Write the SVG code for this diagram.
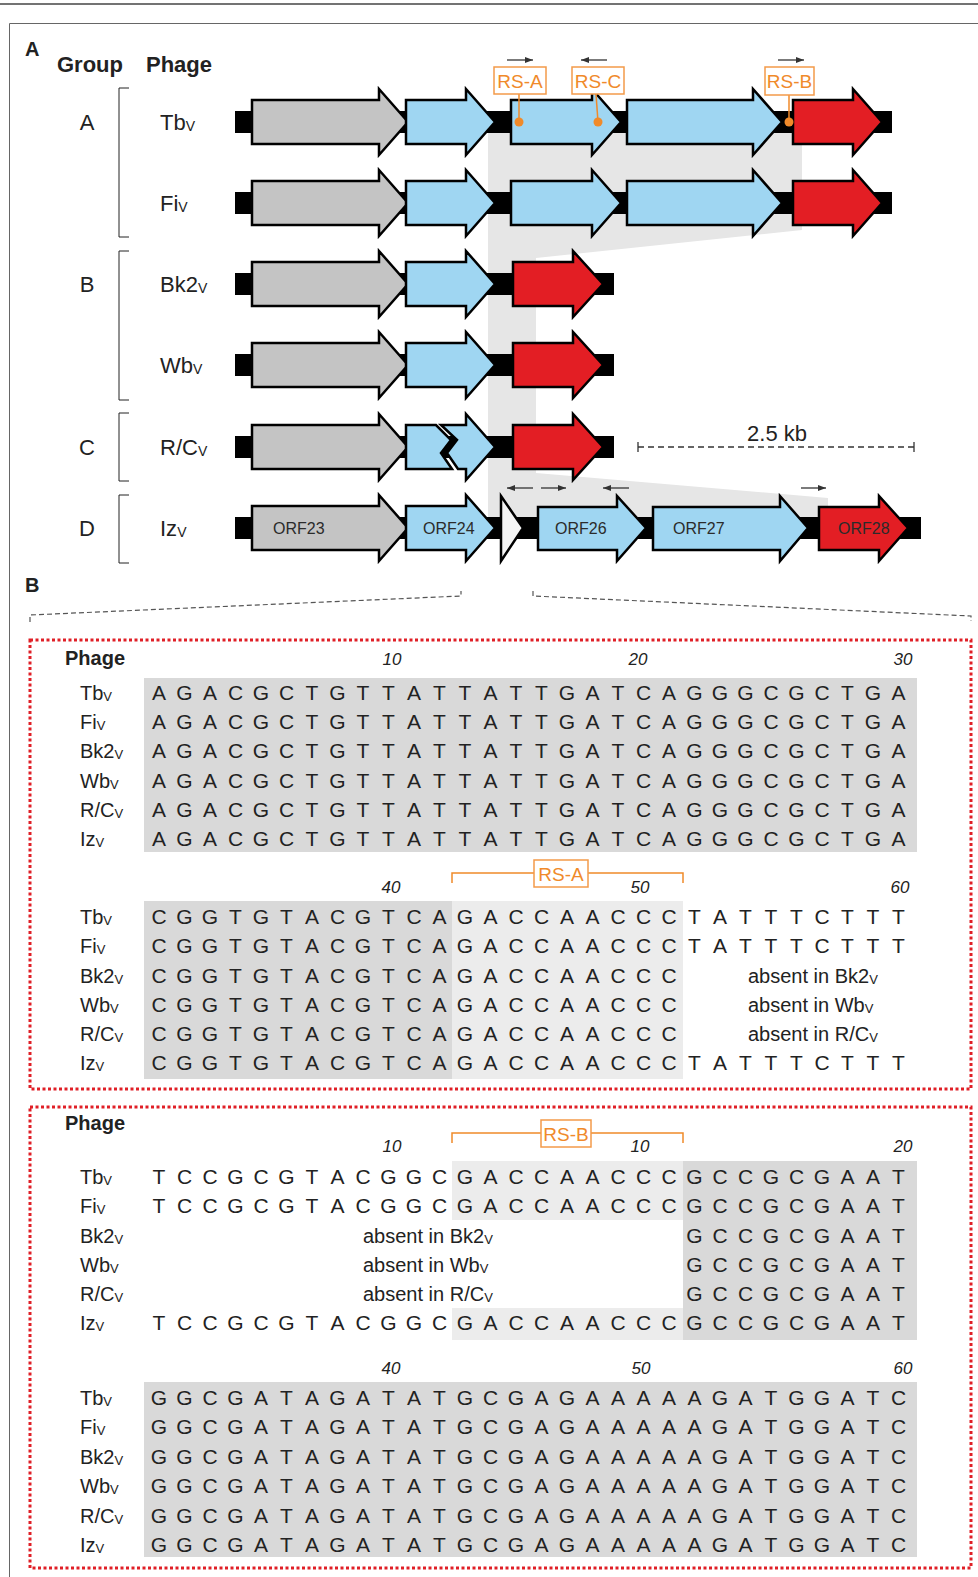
<svg xmlns="http://www.w3.org/2000/svg" width="978" height="1577" viewBox="0 0 978 1577">
<defs>
<style>
text{font-family:"Liberation Sans",Arial,sans-serif;fill:#222}
.hdr{font-size:22px;font-weight:bold}
.hdrB{font-size:20px;font-weight:bold}
.pl{font-size:20px;font-weight:bold}
.grp{font-size:22px}
.lbl{font-size:22px}
.sub{font-size:14px}
.lblB{font-size:20px}
.subB{font-size:13px}
.orf{font-size:16px;fill:#2b2b2b}
.seq{font-size:21px;text-anchor:middle}
.num{font-size:17px;font-style:italic;text-anchor:middle}
.rs{font-size:19px;fill:#f08a2a;text-anchor:middle}
.rsbox{fill:#fff;stroke:#f39a4a;stroke-width:1.5}
.rsln{stroke:#f08a2a;stroke-width:1.5;fill:none}
.bar{fill:#000}
.gene{stroke:#000;stroke-width:2.5;stroke-linejoin:miter}
.g{fill:#c4c4c4}
.b{fill:#9fd6f2}
.r{fill:#e31e24}
.w{fill:#f4f4f4}
.primer{stroke:#333;stroke-width:1.3;fill:none;marker-end:url(#ah)}
.brk{stroke:#222;stroke-width:1;fill:none}
.dash{stroke:#555;stroke-width:1.2;fill:none;stroke-dasharray:5 3}
.dot{fill:none;stroke:#e01f26;stroke-width:3;stroke-dasharray:3 2.5}
.dk{fill:#d9d9d9}
.lt{fill:#ececec}
</style>
<marker id="ah" viewBox="0 0 8 6" refX="8" refY="3" markerWidth="8" markerHeight="6" markerUnits="userSpaceOnUse" orient="auto"><path d="M0,0 L8,3 L0,6 Z" fill="#333"/></marker>
</defs>
<rect width="978" height="1577" fill="#fff"/>
<line x1="0" y1="4" x2="978" y2="4" stroke="#444" stroke-width="1.5"/>
<path d="M9.5,1577 V23.5 H978" fill="none" stroke="#666" stroke-width="1"/>

<!-- Panel A -->
<text class="pl" x="25" y="56">A</text>
<text class="hdr" x="57" y="72">Group</text>
<text class="hdr" x="146" y="72">Phage</text>

<g id="groups">
<text class="grp" x="87" y="130" text-anchor="middle">A</text>
<text class="grp" x="87" y="292" text-anchor="middle">B</text>
<text class="grp" x="87" y="455" text-anchor="middle">C</text>
<text class="grp" x="87" y="536" text-anchor="middle">D</text>
<path class="brk" d="M129,88 H119 V237 H129"/>
<path class="brk" d="M129,251 H119 V400 H129"/>
<path class="brk" d="M129,413 H119 V481 H129"/>
<path class="brk" d="M129,495 H119 V563 H129"/>
</g>

<g id="phage-labels-A">
<text class="lbl" x="160" y="130">Tb<tspan class="sub" dy="1">V</tspan></text>
<text class="lbl" x="160" y="211">Fi<tspan class="sub" dy="1">V</tspan></text>
<text class="lbl" x="160" y="292">Bk2<tspan class="sub" dy="1">V</tspan></text>
<text class="lbl" x="160" y="373">Wb<tspan class="sub" dy="1">V</tspan></text>
<text class="lbl" x="160" y="455">R/C<tspan class="sub" dy="1">V</tspan></text>
<text class="lbl" x="160" y="536">Iz<tspan class="sub" dy="1">V</tspan></text>
</g>

<polygon id="homology-shade" points="488,133 802,133 802,230 536,258 536,473 828,498 828,517 488,517" fill="#e6e6e6"/>

<g id="row-Tb">
<rect class="bar" x="235" y="111" width="657" height="22"/>
<path class="gene g" d="M252,100 H379 V89 L408,122 L379,155 V144 H252 Z"/>
<path class="gene b" d="M406,100 H466 V89 L495,122 L466,155 V144 H406 Z"/>
<path class="gene b" d="M511,100 H592 V89 L621,122 L592,155 V144 H511 Z"/>
<path class="gene b" d="M627,100 H753 V89 L782,122 L753,155 V144 H627 Z"/>
<path class="gene r" d="M793,100 H853 V89 L882,122 L853,155 V144 H793 Z"/>
</g>
<g id="row-Fi">
<rect class="bar" x="235" y="192" width="657" height="22"/>
<path class="gene g" d="M252,181 H379 V170 L408,203 L379,236 V225 H252 Z"/>
<path class="gene b" d="M406,181 H466 V170 L495,203 L466,236 V225 H406 Z"/>
<path class="gene b" d="M511,181 H592 V170 L621,203 L592,236 V225 H511 Z"/>
<path class="gene b" d="M627,181 H753 V170 L782,203 L753,236 V225 H627 Z"/>
<path class="gene r" d="M793,181 H853 V170 L882,203 L853,236 V225 H793 Z"/>
</g>
<g id="row-Bk2">
<rect class="bar" x="235" y="273" width="379" height="22"/>
<path class="gene g" d="M252,262 H379 V251 L408,284 L379,317 V306 H252 Z"/>
<path class="gene b" d="M406,262 H466 V251 L495,284 L466,317 V306 H406 Z"/>
<path class="gene r" d="M513,262 H573 V251 L603,284 L573,317 V306 H513 Z"/>
</g>
<g id="row-Wb">
<rect class="bar" x="235" y="354" width="379" height="22"/>
<path class="gene g" d="M252,343 H379 V332 L408,365 L379,398 V387 H252 Z"/>
<path class="gene b" d="M406,343 H466 V332 L495,365 L466,398 V387 H406 Z"/>
<path class="gene r" d="M513,343 H573 V332 L603,365 L573,398 V387 H513 Z"/>
</g>
<g id="row-RC">
<rect class="bar" x="235" y="436" width="379" height="22"/>
<path class="gene g" d="M252,425 H379 V414 L408,447 L379,480 V469 H252 Z"/>
<path class="gene b" d="M406,425 H436 L451,440 L441,453 L452,469 H406 Z"/>
<path class="gene b" d="M441,425 H466 V414 L495,447 L466,480 V469 H458 L447,453 L457,440 Z"/>
<path class="gene r" d="M513,425 H573 V414 L603,447 L573,480 V469 H513 Z"/>
</g>
<g id="row-Iz">
<rect class="bar" x="235" y="517" width="686" height="22"/>
<path class="gene g" d="M252,506 H379 V495 L408,528 L379,561 V550 H252 Z"/>
<path class="gene b" d="M406,506 H466 V495 L495,528 L466,561 V550 H406 Z"/>
<path class="gene w" d="M501,496 L523,528 L501,561 Z"/>
<path class="gene b" d="M538,507 H617 V496 L646,528 L617,561 V550 H538 Z"/>
<path class="gene b" d="M653,507 H780 V496 L808,528 L780,561 V550 H653 Z"/>
<path class="gene r" d="M819,507 H879 V496 L908,528 L879,561 V550 H819 Z"/>
<text class="orf" x="273" y="534">ORF23</text>
<text class="orf" x="423" y="534">ORF24</text>
<text class="orf" x="555" y="534">ORF26</text>
<text class="orf" x="673" y="534">ORF27</text>
<text class="orf" x="838" y="534">ORF28</text>
</g>

<g id="connectors">
<line class="rsln" x1="519" y1="94" x2="519" y2="122"/>
<line class="rsln" x1="596" y1="94" x2="598" y2="122"/>
<line class="rsln" x1="789" y1="95" x2="789" y2="122"/>
<circle cx="519" cy="122" r="4.5" fill="#f08a2a"/>
<circle cx="598" cy="122" r="4.5" fill="#f08a2a"/>
<circle cx="789" cy="122" r="4.5" fill="#f08a2a"/>
<line class="primer" x1="507" y1="60" x2="533" y2="60"/>
<line class="primer" x1="607" y1="60" x2="581" y2="60"/>
<line class="primer" x1="778" y1="60" x2="804" y2="60"/>
<line class="primer" x1="533" y1="488" x2="507" y2="488"/>
<line class="primer" x1="541" y1="488" x2="566" y2="488"/>
<line class="primer" x1="629" y1="488" x2="603" y2="488"/>
<line class="primer" x1="801" y1="488" x2="826" y2="488"/>
</g>

<g id="rs-labels-A">
<rect class="rsbox" x="494" y="67" width="52" height="27"/>
<text class="rs" x="520" y="88">RS-A</text>
<rect class="rsbox" x="572" y="67" width="52" height="27"/>
<text class="rs" x="598" y="88">RS-C</text>
<rect class="rsbox" x="765" y="67" width="49" height="28"/>
<text class="rs" x="789.5" y="88">RS-B</text>
</g>

<g id="scale-bar">
<text x="777" y="441" font-size="22" text-anchor="middle">2.5 kb</text>
<line x1="638" y1="447" x2="914" y2="447" stroke="#333" stroke-width="1.3" stroke-dasharray="6 4"/>
<line x1="638" y1="442" x2="638" y2="452" stroke="#333" stroke-width="1.3"/>
<line x1="914" y1="442" x2="914" y2="452" stroke="#333" stroke-width="1.3"/>
</g>

<!-- Panel B -->
<text class="pl" x="25" y="592">B</text>
<g id="zoom-lines">
<path class="dash" d="M30,622 V615 L461,596 V591"/>
<path class="dash" d="M533,591 V596 L971,616 V621"/>
</g>

<rect class="dot" x="30" y="640" width="941" height="449"/>
<rect class="dot" x="30" y="1107" width="941" height="461"/>

<g id="block1">
<text class="hdrB" x="65" y="665">Phage</text>
<text class="num" x="392" y="665">10</text>
<text class="num" x="638" y="665">20</text>
<text class="num" x="903" y="665">30</text>
<rect class="dk" x="144" y="678" width="773" height="174"/>
<text class="lblB" x="80" y="700">Tb<tspan class="subB" dy="1">V</tspan></text>
<text class="lblB" x="80" y="729">Fi<tspan class="subB" dy="1">V</tspan></text>
<text class="lblB" x="80" y="758">Bk2<tspan class="subB" dy="1">V</tspan></text>
<text class="lblB" x="80" y="788">Wb<tspan class="subB" dy="1">V</tspan></text>
<text class="lblB" x="80" y="817">R/C<tspan class="subB" dy="1">V</tspan></text>
<text class="lblB" x="80" y="846">Iz<tspan class="subB" dy="1">V</tspan></text>
<text class="seq" x="159 184.5 210 235.5 261 286.5 312 337.5 363 388.5 414 439.5 465 490.5 516 541.5 567 592.5 618 643.5 669 694.5 720 745.5 771 796.5 822 847.5 873 898.5" y="700">AGACGCTGTTATTATTGATCAGGGCGCTGA</text>
<text class="seq" x="159 184.5 210 235.5 261 286.5 312 337.5 363 388.5 414 439.5 465 490.5 516 541.5 567 592.5 618 643.5 669 694.5 720 745.5 771 796.5 822 847.5 873 898.5" y="729">AGACGCTGTTATTATTGATCAGGGCGCTGA</text>
<text class="seq" x="159 184.5 210 235.5 261 286.5 312 337.5 363 388.5 414 439.5 465 490.5 516 541.5 567 592.5 618 643.5 669 694.5 720 745.5 771 796.5 822 847.5 873 898.5" y="758">AGACGCTGTTATTATTGATCAGGGCGCTGA</text>
<text class="seq" x="159 184.5 210 235.5 261 286.5 312 337.5 363 388.5 414 439.5 465 490.5 516 541.5 567 592.5 618 643.5 669 694.5 720 745.5 771 796.5 822 847.5 873 898.5" y="788">AGACGCTGTTATTATTGATCAGGGCGCTGA</text>
<text class="seq" x="159 184.5 210 235.5 261 286.5 312 337.5 363 388.5 414 439.5 465 490.5 516 541.5 567 592.5 618 643.5 669 694.5 720 745.5 771 796.5 822 847.5 873 898.5" y="817">AGACGCTGTTATTATTGATCAGGGCGCTGA</text>
<text class="seq" x="159 184.5 210 235.5 261 286.5 312 337.5 363 388.5 414 439.5 465 490.5 516 541.5 567 592.5 618 643.5 669 694.5 720 745.5 771 796.5 822 847.5 873 898.5" y="846">AGACGCTGTTATTATTGATCAGGGCGCTGA</text>
</g>

<g id="block2">
<path class="rsln" d="M452,883 V873 H683 V883"/>
<rect class="rsbox" x="534" y="860" width="54" height="27"/>
<text class="rs" x="561" y="881">RS-A</text>
<text class="num" x="391" y="893">40</text>
<text class="num" x="640" y="893">50</text>
<text class="num" x="900" y="893">60</text>
<rect class="dk" x="144" y="901" width="308" height="178"/>
<rect class="lt" x="452" y="901" width="231" height="178"/>
<text class="lblB" x="80" y="924">Tb<tspan class="subB" dy="1">V</tspan></text>
<text class="lblB" x="80" y="953">Fi<tspan class="subB" dy="1">V</tspan></text>
<text class="lblB" x="80" y="983">Bk2<tspan class="subB" dy="1">V</tspan></text>
<text class="lblB" x="80" y="1012">Wb<tspan class="subB" dy="1">V</tspan></text>
<text class="lblB" x="80" y="1041">R/C<tspan class="subB" dy="1">V</tspan></text>
<text class="lblB" x="80" y="1070">Iz<tspan class="subB" dy="1">V</tspan></text>
<text class="seq" x="159 184.5 210 235.5 261 286.5 312 337.5 363 388.5 414 439.5 465 490.5 516 541.5 567 592.5 618 643.5 669 694.5 720 745.5 771 796.5 822 847.5 873 898.5" y="924">CGGTGTACGTCAGACCAACCCTATTTCTTT</text>
<text class="seq" x="159 184.5 210 235.5 261 286.5 312 337.5 363 388.5 414 439.5 465 490.5 516 541.5 567 592.5 618 643.5 669 694.5 720 745.5 771 796.5 822 847.5 873 898.5" y="953">CGGTGTACGTCAGACCAACCCTATTTCTTT</text>
<text class="seq" x="159 184.5 210 235.5 261 286.5 312 337.5 363 388.5 414 439.5 465 490.5 516 541.5 567 592.5 618 643.5 669" y="983">CGGTGTACGTCAGACCAACCC</text>
<text class="seq" x="159 184.5 210 235.5 261 286.5 312 337.5 363 388.5 414 439.5 465 490.5 516 541.5 567 592.5 618 643.5 669" y="1012">CGGTGTACGTCAGACCAACCC</text>
<text class="seq" x="159 184.5 210 235.5 261 286.5 312 337.5 363 388.5 414 439.5 465 490.5 516 541.5 567 592.5 618 643.5 669" y="1041">CGGTGTACGTCAGACCAACCC</text>
<text class="seq" x="159 184.5 210 235.5 261 286.5 312 337.5 363 388.5 414 439.5 465 490.5 516 541.5 567 592.5 618 643.5 669 694.5 720 745.5 771 796.5 822 847.5 873 898.5" y="1070">CGGTGTACGTCAGACCAACCCTATTTCTTT</text>
<text class="lblB" x="748" y="983">absent in Bk2<tspan class="subB" dy="1">V</tspan></text>
<text class="lblB" x="748" y="1012">absent in Wb<tspan class="subB" dy="1">V</tspan></text>
<text class="lblB" x="748" y="1041">absent in R/C<tspan class="subB" dy="1">V</tspan></text>
</g>

<g id="block3">
<text class="hdrB" x="65" y="1130">Phage</text>
<path class="rsln" d="M452,1143 V1133 H683 V1143"/>
<rect class="rsbox" x="541" y="1120" width="50" height="27"/>
<text class="rs" x="566" y="1141">RS-B</text>
<text class="num" x="392" y="1152">10</text>
<text class="num" x="640" y="1152">10</text>
<text class="num" x="903" y="1152">20</text>
<rect class="lt" x="452" y="1161" width="231" height="59"/>
<rect class="lt" x="452" y="1308" width="231" height="32"/>
<rect class="dk" x="683" y="1161" width="234" height="179"/>
<text class="lblB" x="80" y="1184">Tb<tspan class="subB" dy="1">V</tspan></text>
<text class="lblB" x="80" y="1213">Fi<tspan class="subB" dy="1">V</tspan></text>
<text class="lblB" x="80" y="1243">Bk2<tspan class="subB" dy="1">V</tspan></text>
<text class="lblB" x="80" y="1272">Wb<tspan class="subB" dy="1">V</tspan></text>
<text class="lblB" x="80" y="1301">R/C<tspan class="subB" dy="1">V</tspan></text>
<text class="lblB" x="80" y="1330">Iz<tspan class="subB" dy="1">V</tspan></text>
<text class="seq" x="159 184.5 210 235.5 261 286.5 312 337.5 363 388.5 414 439.5 465 490.5 516 541.5 567 592.5 618 643.5 669 694.5 720 745.5 771 796.5 822 847.5 873 898.5" y="1184">TCCGCGTACGGCGACCAACCCGCCGCGAAT</text>
<text class="seq" x="159 184.5 210 235.5 261 286.5 312 337.5 363 388.5 414 439.5 465 490.5 516 541.5 567 592.5 618 643.5 669 694.5 720 745.5 771 796.5 822 847.5 873 898.5" y="1213">TCCGCGTACGGCGACCAACCCGCCGCGAAT</text>
<text class="seq" x="694.5 720 745.5 771 796.5 822 847.5 873 898.5" y="1243">GCCGCGAAT</text>
<text class="seq" x="694.5 720 745.5 771 796.5 822 847.5 873 898.5" y="1272">GCCGCGAAT</text>
<text class="seq" x="694.5 720 745.5 771 796.5 822 847.5 873 898.5" y="1301">GCCGCGAAT</text>
<text class="seq" x="159 184.5 210 235.5 261 286.5 312 337.5 363 388.5 414 439.5 465 490.5 516 541.5 567 592.5 618 643.5 669 694.5 720 745.5 771 796.5 822 847.5 873 898.5" y="1330">TCCGCGTACGGCGACCAACCCGCCGCGAAT</text>
<text class="lblB" x="363" y="1243">absent in Bk2<tspan class="subB" dy="1">V</tspan></text>
<text class="lblB" x="363" y="1272">absent in Wb<tspan class="subB" dy="1">V</tspan></text>
<text class="lblB" x="363" y="1301">absent in R/C<tspan class="subB" dy="1">V</tspan></text>
</g>

<g id="block4">
<text class="num" x="391" y="1374">40</text>
<text class="num" x="641" y="1374">50</text>
<text class="num" x="903" y="1374">60</text>
<rect class="dk" x="144" y="1382" width="773" height="175"/>
<text class="lblB" x="80" y="1405">Tb<tspan class="subB" dy="1">V</tspan></text>
<text class="lblB" x="80" y="1434">Fi<tspan class="subB" dy="1">V</tspan></text>
<text class="lblB" x="80" y="1464">Bk2<tspan class="subB" dy="1">V</tspan></text>
<text class="lblB" x="80" y="1493">Wb<tspan class="subB" dy="1">V</tspan></text>
<text class="lblB" x="80" y="1523">R/C<tspan class="subB" dy="1">V</tspan></text>
<text class="lblB" x="80" y="1552">Iz<tspan class="subB" dy="1">V</tspan></text>
<text class="seq" x="159 184.5 210 235.5 261 286.5 312 337.5 363 388.5 414 439.5 465 490.5 516 541.5 567 592.5 618 643.5 669 694.5 720 745.5 771 796.5 822 847.5 873 898.5" y="1405">GGCGATAGATATGCGAGAAAAAGATGGATC</text>
<text class="seq" x="159 184.5 210 235.5 261 286.5 312 337.5 363 388.5 414 439.5 465 490.5 516 541.5 567 592.5 618 643.5 669 694.5 720 745.5 771 796.5 822 847.5 873 898.5" y="1434">GGCGATAGATATGCGAGAAAAAGATGGATC</text>
<text class="seq" x="159 184.5 210 235.5 261 286.5 312 337.5 363 388.5 414 439.5 465 490.5 516 541.5 567 592.5 618 643.5 669 694.5 720 745.5 771 796.5 822 847.5 873 898.5" y="1464">GGCGATAGATATGCGAGAAAAAGATGGATC</text>
<text class="seq" x="159 184.5 210 235.5 261 286.5 312 337.5 363 388.5 414 439.5 465 490.5 516 541.5 567 592.5 618 643.5 669 694.5 720 745.5 771 796.5 822 847.5 873 898.5" y="1493">GGCGATAGATATGCGAGAAAAAGATGGATC</text>
<text class="seq" x="159 184.5 210 235.5 261 286.5 312 337.5 363 388.5 414 439.5 465 490.5 516 541.5 567 592.5 618 643.5 669 694.5 720 745.5 771 796.5 822 847.5 873 898.5" y="1523">GGCGATAGATATGCGAGAAAAAGATGGATC</text>
<text class="seq" x="159 184.5 210 235.5 261 286.5 312 337.5 363 388.5 414 439.5 465 490.5 516 541.5 567 592.5 618 643.5 669 694.5 720 745.5 771 796.5 822 847.5 873 898.5" y="1552">GGCGATAGATATGCGAGAAAAAGATGGATC</text>
</g>
</svg>
